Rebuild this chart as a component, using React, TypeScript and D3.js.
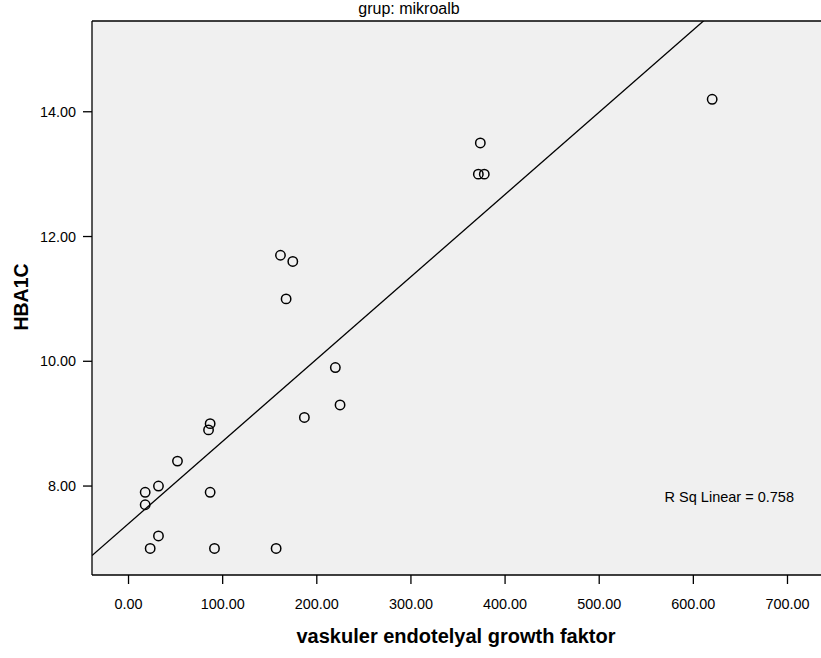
import React from "react";
import * as d3 from "d3";

const vegf = [620, 373.7, 371.6, 377.9, 161.4, 174.5, 167.4, 219.7, 224.7, 186.8, 86.7, 85, 52, 31.8, 17.7, 17.7, 86.7, 31.8, 23, 91.3, 156.8];
const hba1c = [14.2, 13.5, 13.0, 13.0, 11.7, 11.6, 11.0, 9.9, 9.3, 9.1, 9.0, 8.9, 8.4, 8.0, 7.9, 7.7, 7.9, 7.2, 7.0, 7.0, 7.0];
const xTicks = [0, 100, 200, 300, 400, 500, 600, 700];
const yTicks = [8, 10, 12, 14];
const title = "grup: mikroalb";
const xLabel = "vaskuler endotelyal growth faktor";
const yLabel = "HBA1C";
const rsqLabel = "R Sq Linear = 0.758";

const W = 821;
const H = 658;
const left = 92;
const right = 821;
const top = 21;
const bottom = 575;

export default function App() {
  const x = d3.scaleLinear().domain([-38.8, 735.6]).range([left, right]);
  const y = d3.scaleLinear().domain([6.574, 15.455]).range([bottom, top]);

  const mx = d3.mean(vegf) as number;
  const my = d3.mean(hba1c) as number;
  let sxy = 0, sxx = 0;
  vegf.forEach((v, i) => {
    sxy += (v - mx) * (hba1c[i] - my);
    sxx += (v - mx) * (v - mx);
  });
  const slope = sxy / sxx;
  const intercept = my - slope * mx;
  const [x0, x1] = x.domain();
  const linePath = d3.line<[number, number]>()
    .x((d) => x(d[0]))
    .y((d) => y(d[1]))([
      [x0, intercept + slope * x0],
      [x1, intercept + slope * x1],
    ]);

  const font = "'Liberation Sans', Arial, Helvetica, sans-serif";

  return (
    <svg width={W} height={H} style={{ position: "absolute", left: 0, top: 0 }} fontFamily={font}>
      <rect x={0} y={0} width={W} height={H} fill="#ffffff" />
      <defs>
        <clipPath id="plotclip">
          <rect x={left} y={top} width={right - left} height={bottom - top} />
        </clipPath>
      </defs>
      <rect x={left} y={top} width={right - left} height={bottom - top} fill="#f0f0f0" />
      <text x={409} y={14} textAnchor="middle" fontSize={16} fill="#000">{title}</text>
      <g clipPath="url(#plotclip)">
        <path d={linePath || ""} stroke="#000" strokeWidth={1.3} fill="none" />
        {vegf.map((v, i) => (
          <circle key={i} cx={x(v)} cy={y(hba1c[i])} r={4.7} fill="none" stroke="#000" strokeWidth={1.5} />
        ))}
      </g>
      <line x1={left} x2={right} y1={top} y2={top} stroke="#000" strokeWidth={1.3} />
      <line x1={left} x2={right} y1={bottom} y2={bottom} stroke="#000" strokeWidth={1.3} />
      <line x1={left} x2={left} y1={top} y2={bottom} stroke="#000" strokeWidth={1.3} />
      {xTicks.map((t) => (
        <g key={t}>
          <line x1={x(t)} x2={x(t)} y1={bottom} y2={bottom + 9} stroke="#000" strokeWidth={1.3} />
          <text x={x(t)} y={609} textAnchor="middle" fontSize={14.4} fill="#000">{t.toFixed(2)}</text>
        </g>
      ))}
      {yTicks.map((t) => (
        <g key={t}>
          <line x1={left - 9} x2={left} y1={y(t)} y2={y(t)} stroke="#000" strokeWidth={1.3} />
          <text x={76} y={y(t) + 5} textAnchor="end" fontSize={14.4} fill="#000">{t.toFixed(2)}</text>
        </g>
      ))}
      <text x={794} y={502} textAnchor="end" fontSize={14.5} fill="#000">{rsqLabel}</text>
      <text x={456} y={643} textAnchor="middle" fontSize={20} fontWeight="bold" fill="#000">{xLabel}</text>
      <text transform={`translate(28,297) rotate(-90)`} textAnchor="middle" fontSize={19.5} fontWeight="bold" fill="#000">{yLabel}</text>
    </svg>
  );
}
